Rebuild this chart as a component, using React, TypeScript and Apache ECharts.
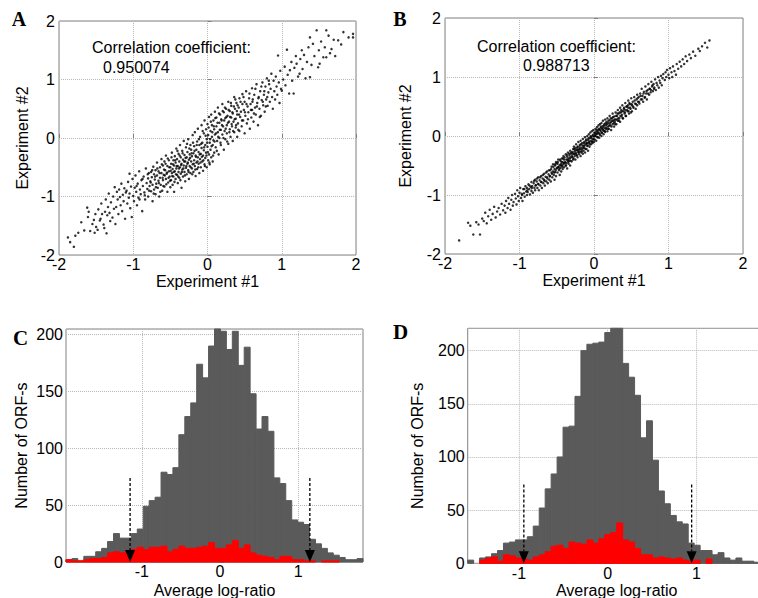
import React, { useEffect, useRef } from 'react';
import * as echarts from 'echarts';

// ---------- Data ----------
const SCATTER_TICKS = [-2, -1, 0, 1, 2];
const HIST_X_TICKS = [-1, 0, 1];
const CORR_A = '0.950074';
const CORR_B = '0.988713';

// Panel A: Experiment #1 vs Experiment #2 (x, y pairs, read approximately)
const A_XY = [
  -1.88,-1.70, -1.85,-1.78, -1.80,-1.86, -1.78,-1.67, -1.74,-1.62, -1.70,-1.44, -1.66,-1.58, -1.62,-1.19,
  -1.61,-1.35, -1.60,-1.26, -1.58,-1.59, -1.55,-1.47, -1.53,-1.40, -1.52,-1.62, -1.51,-1.30, -1.50,-1.52,
  -1.48,-1.57, -1.47,-1.22, -1.45,-1.41, -1.44,-1.38, -1.43,-1.12, -1.42,-1.30, -1.40,-1.48, -1.39,-1.54,
  -1.38,-1.26, -1.37,-1.05, -1.36,-1.63, -1.35,-1.32, -1.34,-1.18, -1.33,-0.95, -1.32,-1.28, -1.31,-1.42,
  -1.30,-1.10, -1.28,-1.36, -1.27,-1.00, -1.26,-1.21, -1.25,-0.84, -1.24,-1.47, -1.23,-1.18, -1.22,-0.92,
  -1.21,-1.05, -1.20,-1.30, -1.19,-0.88, -1.18,-1.01, -1.17,-1.15, -1.16,-0.78, -1.15,-1.25, -1.14,-0.97,
  -1.13,-1.08, -1.12,-0.86, -1.11,-1.38, -1.10,-0.93,
  -1.09,-0.90, -1.08,-1.12, -1.07,-0.75, -1.06,-1.02, -1.05,-0.61, -1.05,-0.95, -1.04,-1.20, -1.03,-0.83,
  -1.02,-1.35, -1.01,-0.70, -1.00,-0.99, -0.99,-1.08, -0.98,-0.85, -0.97,-0.64, -0.96,-0.92, -0.95,-1.15,
  -0.94,-0.78, -0.93,-1.02, -0.92,-0.57, -0.91,-0.88, -0.90,-0.96, -0.89,-0.72, -0.88,-1.25, -0.87,-0.82,
  -0.86,-0.66, -0.85,-0.93, -0.84,-1.05, -0.83,-0.52, -0.82,-0.77, -0.81,-0.87, -0.80,-0.69, -0.80,-1.00,
  -0.79,-0.60, -0.78,-0.82,
  -0.77,-0.74, -0.76,-0.91, -0.76,-0.58, -0.75,-0.67, -0.74,-1.08, -0.74,-0.80, -0.73,-0.49, -0.72,-0.62,
  -0.72,-0.88, -0.71,-0.71, -0.70,-0.55, -0.70,-0.96, -0.69,-0.78, -0.68,-0.42, -0.68,-0.64, -0.67,-0.85,
  -0.66,-0.57, -0.66,-0.73, -0.65,-1.00, -0.64,-0.50, -0.64,-0.68, -0.63,-0.80, -0.62,-0.36, -0.62,-0.60,
  -0.61,-0.90, -0.60,-0.47, -0.60,-0.72, -0.59,-0.63, -0.58,-0.83, -0.58,-0.40, -0.57,-0.55, -0.56,-0.70,
  -0.56,-0.30, -0.55,-0.61, -0.54,-0.92, -0.54,-0.48, -0.53,-0.76, -0.52,-0.57, -0.52,-0.38, -0.51,-0.66,
  -0.50,-0.84, -0.50,-0.50,
  -0.49,-0.44, -0.49,-0.72, -0.48,-0.60, -0.48,-0.25, -0.47,-0.53, -0.47,-0.80, -0.46,-0.38, -0.46,-0.66,
  -0.45,-0.47, -0.45,-0.92, -0.44,-0.31, -0.44,-0.57, -0.43,-0.70, -0.43,-0.42, -0.42,-0.18, -0.42,-0.52,
  -0.41,-0.63, -0.41,-0.36, -0.40,-0.77, -0.40,-0.48, -0.39,-0.27, -0.39,-0.58, -0.38,-0.40, -0.38,-0.68,
  -0.37,-0.50, -0.37,-0.12, -0.36,-0.33, -0.36,-0.61, -0.35,-0.44, -0.35,-0.85, -0.34,-0.22, -0.34,-0.54,
  -0.33,-0.37, -0.33,-0.66, -0.32,-0.47, -0.32,-0.05, -0.31,-0.29, -0.31,-0.58, -0.30,-0.40, -0.30,-0.74,
  -0.29,-0.16, -0.29,-0.51, -0.28,-0.33, -0.28,-0.62, -0.27,-0.44, -0.27,-0.24, -0.26,-0.55, -0.26,-0.02,
  -0.25,-0.37, -0.25,-0.70, -0.24,-0.28, -0.24,-0.48, -0.23,-0.12, -0.23,-0.60, -0.22,-0.40, -0.22,-0.20,
  -0.21,-0.52, -0.21,-0.31, -0.20,-0.45, -0.20,0.05,
  -0.19,-0.26, -0.19,-0.58, -0.18,-0.14, -0.18,-0.38, -0.17,-0.48, -0.17,0.10, -0.16,-0.30, -0.16,-0.65,
  -0.15,-0.20, -0.15,-0.42, -0.14,-0.06, -0.14,-0.53, -0.13,-0.33, -0.13,0.16, -0.12,-0.24, -0.12,-0.44,
  -0.11,-0.12, -0.11,-0.60, -0.10,-0.36, -0.10,0.02, -0.09,-0.27, -0.09,-0.50, -0.08,-0.17, -0.08,0.22,
  -0.07,-0.40, -0.07,-0.08, -0.06,-0.30, -0.06,-0.56, -0.05,0.08, -0.05,-0.21, -0.04,-0.45, -0.04,0.30,
  -0.03,-0.12, -0.03,-0.34, -0.02,0.15, -0.02,-0.25, -0.01,-0.02, -0.01,-0.50, 0.00,-0.15, 0.00,0.24,
  0.01,-0.38, 0.01,0.05, 0.02,-0.28, 0.02,0.36, 0.03,-0.08, 0.03,-0.45, 0.04,0.12, 0.04,-0.20,
  0.05,0.40, 0.05,-0.33, 0.06,0.02, 0.06,0.22, 0.07,-0.12, 0.07,-0.40, 0.08,0.30, 0.08,-0.04,
  0.09,0.15, 0.09,-0.25, 0.10,0.45, 0.10,0.06,
  0.11,-0.16, 0.12,0.20, 0.12,0.35, 0.13,-0.05, 0.14,0.10, 0.14,0.52, 0.15,-0.28, 0.16,0.26,
  0.16,0.00, 0.17,0.40, 0.18,0.14, 0.18,-0.12, 0.19,0.30, 0.20,0.58, 0.20,0.06, 0.21,0.20,
  0.22,-0.20, 0.22,0.44, 0.23,0.12, 0.24,0.34, 0.24,-0.02, 0.25,0.50, 0.26,0.22, 0.26,0.08,
  0.27,0.38, 0.28,-0.10, 0.28,0.62, 0.29,0.28, 0.30,0.15, 0.30,0.46, 0.31,0.02, 0.32,0.35,
  0.32,0.55, 0.33,0.20, 0.34,-0.05, 0.34,0.42, 0.35,0.28, 0.36,0.70, 0.36,0.10, 0.37,0.50,
  0.38,0.33, 0.38,0.18, 0.39,0.60, 0.40,0.02, 0.40,0.40,
  0.41,0.25, 0.42,0.52, 0.43,0.12, 0.43,0.68, 0.44,0.36, 0.45,0.45, 0.46,0.20, 0.47,0.58,
  0.47,0.75, 0.48,0.30, 0.49,0.48, 0.50,0.08, 0.50,0.62, 0.51,0.38, 0.52,0.80, 0.53,0.25,
  0.54,0.54, 0.55,0.44, 0.56,0.68, 0.57,0.16, 0.58,0.58, 0.59,0.35, 0.60,0.85, 0.60,0.48,
  0.61,0.66, 0.62,0.28, 0.63,0.74, 0.64,0.52, 0.65,0.40, 0.66,0.92, 0.67,0.60, 0.68,0.22,
  0.69,0.70, 0.70,0.50,
  0.71,0.80, 0.72,0.38, 0.73,0.65, 0.74,0.95, 0.75,0.56, 0.76,0.74, 0.77,0.45, 0.78,0.88,
  0.79,0.66, 0.80,1.02, 0.81,0.55, 0.82,0.78, 0.83,0.92, 0.84,0.62, 0.85,0.84, 0.86,1.10,
  0.87,0.70, 0.88,0.50, 0.89,0.98, 0.90,0.80, 0.91,0.66, 0.92,1.05, 0.93,0.88, 0.94,0.74,
  0.95,1.41, 0.96,0.95, 0.97,0.60, 0.98,1.15, 0.99,0.84, 1.00,0.81,
  1.02,1.00, 1.04,1.22, 1.05,0.90, 1.07,1.51, 1.08,1.08, 1.10,0.76, 1.11,1.16, 1.13,1.30,
  1.14,0.98, 1.16,0.76, 1.17,1.20, 1.19,1.40, 1.20,1.27, 1.22,1.05, 1.24,1.10, 1.25,1.35,
  1.27,1.50, 1.28,1.18, 1.30,1.42, 1.32,1.02, 1.34,1.30, 1.36,1.55, 1.38,1.04, 1.38,1.72,
  1.40,1.25,
  1.42,1.61, 1.44,1.40, 1.47,1.84, 1.49,1.21, 1.50,1.50, 1.51,1.27, 1.53,1.65, 1.56,1.38,
  1.58,1.55, 1.60,1.84, 1.60,1.38, 1.63,1.75, 1.65,1.45, 1.67,1.52, 1.70,1.68, 1.72,1.40,
  1.76,1.67, 1.80,1.60, 1.83,1.81, 1.90,1.72, 1.96,1.78, 1.96,1.72,
  // denser core of panel A
  -0.955,-0.82, -0.915,-1.05, -0.875,-0.70, -0.845,-0.98, -0.805,-0.62, -0.785,-0.90, -0.765,-0.76, -0.745,-0.55,
  -0.725,-0.95, -0.705,-0.66, -0.695,-0.84, -0.675,-0.52, -0.655,-0.77, -0.645,-0.60, -0.635,-0.92, -0.615,-0.45,
  -0.605,-0.68, -0.595,-0.82, -0.585,-0.54, -0.575,-0.64, -0.565,-0.44, -0.555,-0.79, -0.545,-0.59, -0.535,-0.35,
  -0.525,-0.68, -0.515,-0.50, -0.505,-0.73, -0.495,-0.56, -0.485,-0.33, -0.475,-0.65, -0.465,-0.45, -0.455,-0.58,
  -0.445,-0.75, -0.435,-0.38, -0.425,-0.62, -0.415,-0.48, -0.405,-0.22, -0.395,-0.66, -0.385,-0.52, -0.375,-0.30,
  -0.365,-0.72, -0.355,-0.46, -0.345,-0.58, -0.335,-0.26, -0.325,-0.52, -0.315,-0.40, -0.305,-0.64, -0.295,-0.34,
  -0.285,-0.48, -0.275,-0.10, -0.265,-0.42, -0.255,-0.58, -0.245,-0.18, -0.235,-0.34, -0.225,-0.50, -0.215,-0.26,
  -0.205,-0.62, -0.195,-0.08, -0.185,-0.44, -0.175,-0.22, -0.165,-0.54, -0.155,-0.32, -0.145,-0.12, -0.135,-0.40,
  -0.125,-0.50, -0.115,-0.02, -0.105,-0.28, -0.095,-0.42, -0.085,-0.10, -0.075,-0.32, -0.065,0.12, -0.055,-0.38,
  -0.045,-0.16, -0.035,-0.48, -0.025,0.04, -0.015,-0.30, -0.005,-0.08, 0.005,-0.24, 0.015,0.18, 0.025,-0.42,
  0.035,-0.02, 0.045,0.28, 0.055,-0.14, 0.065,0.10, 0.075,-0.30, 0.085,0.20, 0.095,-0.06, 0.105,0.34,
  0.115,0.08, 0.125,-0.22, 0.135,0.26, 0.145,0.02, 0.155,0.42, 0.165,0.14, 0.175,-0.08, 0.185,0.32,
  0.195,0.22, 0.205,0.46, 0.215,0.00, 0.225,0.30, 0.235,0.52, 0.245,0.16, 0.255,0.36, 0.265,-0.06,
  0.275,0.26, 0.285,0.48, 0.295,0.10, 0.305,0.36, 0.315,0.60, 0.325,0.24, 0.335,0.44, 0.345,0.12,
  0.355,0.54, 0.365,0.32, 0.375,0.66, 0.385,0.22, 0.395,0.46, 0.405,0.56, 0.415,0.14, 0.425,0.40,
  0.445,0.62, 0.465,0.30, 0.485,0.70, 0.505,0.44, 0.525,0.58, 0.545,0.32, 0.565,0.76, 0.585,0.48,
  0.605,0.62, 0.625,0.42, 0.645,0.84, 0.665,0.54, 0.685,0.68, 0.705,0.36, 0.725,0.88, 0.745,0.62,
  0.765,0.80, 0.785,0.54, 0.805,0.70, 0.825,0.98,
];

// Panel B: Experiment #1 vs Experiment #2 (x, y pairs, read approximately)
const B_XY = [
  -1.81,-1.77, -1.69,-1.47, -1.66,-1.52, -1.62,-1.67, -1.58,-1.46, -1.55,-1.50, -1.53,-1.67, -1.50,-1.40,
  -1.48,-1.44, -1.46,-1.30, -1.44,-1.48, -1.42,-1.36, -1.40,-1.25, -1.38,-1.42, -1.36,-1.32, -1.34,-1.20,
  -1.32,-1.38, -1.30,-1.28, -1.28,-1.22, -1.26,-1.33, -1.24,-1.15, -1.22,-1.26, -1.20,-1.18,
  -1.19,-1.30, -1.18,-1.10, -1.16,-1.22, -1.15,-1.05, -1.14,-1.15, -1.12,-1.25, -1.11,-1.08, -1.10,-1.00,
  -1.09,-1.18, -1.08,-1.12, -1.06,-0.98, -1.05,-1.06, -1.04,-1.16, -1.03,-0.92, -1.02,-1.02, -1.01,-1.10,
  -1.00,-0.96, -0.99,-0.88, -0.98,-1.05, -0.97,-0.98, -0.96,-1.10, -0.95,-0.90, -0.94,-0.97, -0.93,-1.03,
  -0.92,-0.85, -0.91,-0.94, -0.90,-1.00, -0.90,-0.88,
  -0.89,-0.95, -0.88,-0.82, -0.87,-0.90, -0.86,-0.99, -0.85,-0.86, -0.84,-0.78, -0.84,-0.93, -0.83,-0.85,
  -0.82,-0.96, -0.81,-0.80, -0.80,-0.88, -0.79,-0.74, -0.79,-0.92, -0.78,-0.83, -0.77,-0.77, -0.76,-0.88,
  -0.75,-0.70, -0.75,-0.81, -0.74,-0.92, -0.73,-0.75, -0.72,-0.84, -0.71,-0.68, -0.71,-0.78, -0.70,-0.88,
  -0.69,-0.72, -0.68,-0.80, -0.67,-0.64, -0.67,-0.74, -0.66,-0.84, -0.65,-0.69, -0.64,-0.77, -0.63,-0.60,
  -0.63,-0.70, -0.62,-0.80, -0.61,-0.65, -0.60,-0.74,
  -0.59,-0.58, -0.59,-0.68, -0.58,-0.77, -0.57,-0.62, -0.57,-0.52, -0.56,-0.70, -0.55,-0.60, -0.55,-0.48,
  -0.54,-0.66, -0.53,-0.56, -0.53,-0.74, -0.52,-0.50, -0.52,-0.61, -0.51,-0.44, -0.51,-0.68, -0.50,-0.55,
  -0.49,-0.47, -0.49,-0.62, -0.48,-0.53, -0.48,-0.40, -0.47,-0.58, -0.46,-0.49, -0.46,-0.66, -0.45,-0.42,
  -0.45,-0.54, -0.44,-0.47, -0.44,-0.60, -0.43,-0.38, -0.43,-0.50, -0.42,-0.44, -0.42,-0.56, -0.41,-0.34,
  -0.41,-0.48, -0.40,-0.40, -0.40,-0.53, -0.39,-0.45, -0.38,-0.31, -0.38,-0.50, -0.37,-0.40, -0.37,-0.46,
  -0.36,-0.35, -0.36,-0.55, -0.35,-0.42, -0.35,-0.28, -0.34,-0.38, -0.34,-0.47, -0.33,-0.33, -0.33,-0.42,
  -0.32,-0.25, -0.32,-0.50, -0.31,-0.36, -0.31,-0.30, -0.30,-0.43,
  -0.29,-0.27, -0.29,-0.36, -0.28,-0.22, -0.28,-0.40, -0.27,-0.30, -0.27,-0.18, -0.26,-0.34, -0.26,-0.26,
  -0.25,-0.40, -0.25,-0.20, -0.24,-0.29, -0.24,-0.14, -0.23,-0.33, -0.23,-0.24, -0.22,-0.18, -0.22,-0.36,
  -0.21,-0.27, -0.21,-0.10, -0.20,-0.22, -0.20,-0.31, -0.19,-0.15, -0.19,-0.26, -0.18,-0.34, -0.18,-0.08,
  -0.17,-0.20, -0.17,-0.28, -0.16,-0.12, -0.16,-0.23, -0.15,-0.30, -0.15,-0.05, -0.14,-0.17, -0.14,-0.25,
  -0.13,-0.10, -0.13,-0.20, -0.12,-0.02, -0.12,-0.28, -0.11,-0.14, -0.11,-0.08, -0.10,-0.22, -0.10,-0.12,
  -0.09,0.00, -0.09,-0.17, -0.08,-0.07, -0.08,-0.25, -0.07,-0.12, -0.07,0.03, -0.06,-0.04, -0.06,-0.18,
  -0.05,-0.09, -0.05,0.06, -0.04,-0.14, -0.04,-0.02, -0.03,-0.08, -0.03,0.08, -0.02,-0.12, -0.02,0.00,
  -0.01,-0.05, -0.01,0.10, 0.00,-0.01, 0.00,-0.10,
  0.01,0.04, 0.01,-0.06, 0.02,0.12, 0.02,0.00, 0.03,0.07, 0.03,-0.08, 0.04,0.03, 0.04,0.15,
  0.05,-0.02, 0.05,0.09, 0.06,0.18, 0.06,0.05, 0.07,-0.03, 0.07,0.11, 0.08,0.02, 0.08,0.20,
  0.09,0.08, 0.09,0.14, 0.10,0.00, 0.10,0.22, 0.11,0.12, 0.11,0.05, 0.12,0.17, 0.12,0.26,
  0.13,0.09, 0.13,0.03, 0.14,0.20, 0.14,0.14, 0.15,0.28, 0.15,0.07, 0.16,0.18, 0.16,0.12,
  0.17,0.24, 0.18,0.08, 0.18,0.30, 0.19,0.16, 0.19,0.22, 0.20,0.12, 0.21,0.27, 0.21,0.34,
  0.22,0.18, 0.23,0.24, 0.23,0.10, 0.24,0.30, 0.25,0.20, 0.25,0.38, 0.26,0.26, 0.27,0.16,
  0.27,0.33, 0.28,0.24, 0.29,0.40, 0.29,0.28, 0.30,0.20,
  0.31,0.34, 0.32,0.44, 0.32,0.26, 0.33,0.38, 0.34,0.30, 0.35,0.48, 0.35,0.24, 0.36,0.40,
  0.37,0.33, 0.38,0.52, 0.38,0.42, 0.39,0.30, 0.40,0.46, 0.41,0.38, 0.42,0.56, 0.42,0.44,
  0.43,0.34, 0.44,0.50, 0.45,0.42, 0.46,0.60, 0.46,0.48, 0.47,0.38, 0.48,0.54, 0.49,0.46,
  0.50,0.64, 0.51,0.52, 0.51,0.42, 0.52,0.58, 0.53,0.48, 0.54,0.66, 0.55,0.55, 0.56,0.46,
  0.57,0.62, 0.58,0.70, 0.58,0.52, 0.59,0.58, 0.60,0.66,
  0.61,0.55, 0.62,0.72, 0.63,0.62, 0.64,0.80, 0.65,0.68, 0.66,0.58, 0.67,0.75, 0.68,0.65,
  0.69,0.84, 0.70,0.72, 0.71,0.62, 0.72,0.78, 0.73,0.88, 0.74,0.70, 0.75,0.80, 0.76,0.74,
  0.77,0.92, 0.78,0.84, 0.79,0.76, 0.80,0.88, 0.81,0.82, 0.82,0.96, 0.83,0.78, 0.84,0.90,
  0.85,0.86, 0.86,1.00, 0.87,0.82, 0.88,0.94, 0.89,0.90, 0.90,1.02,
  0.91,0.86, 0.92,0.98, 0.93,1.05, 0.95,0.95, 0.96,1.08, 0.97,1.00, 0.98,1.12, 1.00,1.04,
  1.01,0.98, 1.02,1.15, 1.04,1.08, 1.05,1.00, 1.06,1.18, 1.08,1.10, 1.10,1.04, 1.11,1.22,
  1.13,1.14, 1.15,1.26, 1.17,1.18, 1.19,1.30, 1.21,1.22, 1.23,1.35, 1.25,1.27, 1.28,1.38,
  1.30,1.32, 1.33,1.43, 1.36,1.36, 1.40,1.48, 1.42,1.44, 1.45,1.52, 1.49,1.58, 1.52,1.50,
  1.55,1.62,
  // denser core of panel B
  -0.965,-1.00, -0.935,-0.90, -0.895,-0.92, -0.865,-0.84, -0.835,-0.88, -0.805,-0.76, -0.785,-0.84, -0.765,-0.72,
  -0.745,-0.82, -0.725,-0.70, -0.705,-0.78, -0.685,-0.66, -0.665,-0.76, -0.645,-0.62, -0.625,-0.72, -0.605,-0.58,
  -0.595,-0.68, -0.575,-0.56, -0.565,-0.64, -0.545,-0.52, -0.535,-0.62, -0.525,-0.48, -0.515,-0.58, -0.505,-0.46,
  -0.495,-0.54, -0.485,-0.44, -0.475,-0.52, -0.465,-0.56, -0.455,-0.40, -0.445,-0.50, -0.435,-0.44, -0.425,-0.52,
  -0.415,-0.38, -0.405,-0.46, -0.395,-0.36, -0.385,-0.44, -0.375,-0.50, -0.365,-0.32, -0.355,-0.40, -0.345,-0.44,
  -0.335,-0.30, -0.325,-0.38, -0.315,-0.42, -0.305,-0.28, -0.295,-0.34, -0.285,-0.30, -0.275,-0.38, -0.265,-0.22,
  -0.255,-0.30, -0.245,-0.24, -0.235,-0.32, -0.225,-0.20, -0.215,-0.24, -0.205,-0.28, -0.195,-0.18, -0.185,-0.22,
  -0.175,-0.14, -0.165,-0.26, -0.155,-0.16, -0.145,-0.20, -0.135,-0.12, -0.125,-0.16, -0.115,-0.22, -0.105,-0.06,
  -0.095,-0.12, -0.085,-0.16, -0.075,-0.04, -0.065,-0.10, -0.055,-0.14, -0.045,0.00, -0.035,-0.04, -0.025,-0.10,
  -0.015,0.02, -0.005,-0.06, 0.005,0.06, 0.015,0.00, 0.025,0.04, 0.035,0.10, 0.045,-0.02, 0.055,0.06,
  0.065,0.12, 0.075,0.04, 0.085,0.10, 0.095,0.16, 0.105,0.06, 0.115,0.14, 0.125,0.10, 0.135,0.18,
  0.145,0.08, 0.155,0.22, 0.165,0.14, 0.175,0.20, 0.185,0.12, 0.195,0.26, 0.205,0.18, 0.215,0.22,
  0.225,0.30, 0.235,0.16, 0.245,0.26, 0.255,0.32, 0.265,0.22, 0.275,0.28, 0.285,0.20, 0.295,0.34,
  0.305,0.28, 0.315,0.38, 0.325,0.30, 0.335,0.26, 0.345,0.40, 0.355,0.34, 0.365,0.44, 0.375,0.36,
  0.385,0.30, 0.395,0.42, 0.405,0.48, 0.415,0.40, 0.425,0.34, 0.435,0.50, 0.445,0.44, 0.455,0.52,
  0.465,0.42, 0.475,0.56, 0.485,0.48, 0.495,0.40, 0.505,0.54, 0.525,0.50, 0.545,0.60, 0.565,0.54,
  0.585,0.64, 0.605,0.58, 0.625,0.68, 0.645,0.62, 0.665,0.72, 0.685,0.66, 0.705,0.76, 0.725,0.72,
  0.745,0.80, 0.765,0.78, 0.785,0.86, 0.805,0.80,
];

// Panel C histogram: 50 bins of "Average log-ratio"
const C_BIN_START = -1.97;
const C_BIN_WIDTH = 0.076;
const C_COUNTS_ALL = [
  2, 3, 1, 5, 5, 9, 12, 18, 25, 21, 21, 25, 29, 49, 54, 57, 79, 77, 83, 112, 128, 140, 174, 162, 190,
  206, 203, 187, 203, 173, 189, 148, 117, 128, 115, 74, 69, 54, 37, 35, 33, 20, 16, 12, 8, 6, 4, 2, 2, 3,
];
const C_COUNTS_RED = [
  2, 1, 1, 2, 3, 3, 4, 8, 9, 8, 10, 11, 13, 11, 13, 13, 14, 9, 11, 14, 12, 12, 13, 14, 17,
  12, 12, 15, 19, 12, 15, 8, 6, 5, 4, 2, 5, 5, 2, 2, 1, 1, 0, 1, 1, 1, 0, 0, 0, 0,
];
const C_ARROWS_X = [-1.15, 1.15];
const C_ARROW_TOP = 74;
const C_Y_MAX = 205;

// Panel D histogram
const D_BIN_START = -1.578;
const D_BIN_WIDTH = 0.0672;
const D_COUNTS_ALL = [
  3, 0, 5, 6, 9, 12, 19, 20, 22, 22, 25, 35, 52, 70, 84, 100, 128, 129, 157, 200, 206, 207, 208, 217, 224,
  224, 188, 175, 158, 118, 134, 97, 68, 56, 45, 39, 37, 19, 17, 12, 12, 8, 10, 5, 3, 5, 2, 2, 1, 1,
];
const D_COUNTS_RED = [
  0, 0, 3, 5, 6, 2, 8, 7, 5, 4, 3, 6, 8, 11, 16, 17, 14, 20, 19, 18, 22, 19, 23, 27, 29,
  38, 22, 20, 14, 8, 8, 5, 6, 5, 4, 5, 3, 2, 3, 0, 4, 0, 0, 0, 0, 0, 0, 0, 0, 0,
];
const D_ARROWS_X = [-0.945, 0.947];
const D_ARROW_TOP = 74;
const D_Y_MAX = 221;

// ---------- Helpers ----------
const SANS = "'Liberation Sans', Arial, Helvetica, sans-serif";
const SERIF = "'Liberation Serif', 'Times New Roman', serif";
const GRAY = '#5a5a5a';
const RED = '#ff0000';
const BORDER = '#808080';
const GRIDLINE = '#b8b8b8';

function pairs(flat: number[]) {
  const out: number[][] = [];
  for (let i = 0; i < flat.length; i += 2) out.push([flat[i], flat[i + 1]]);
  return out;
}

function bins(start: number, width: number, counts: number[]) {
  return counts.map((c, i) => [start + i * width, start + (i + 1) * width, c]);
}

function histRender(color: string) {
  return (params: any, api: any) => {
    const x0 = api.value(0);
    const x1 = api.value(1);
    const c = api.value(2);
    if (!c) return null;
    const p0 = api.coord([x0, c]);
    const p1 = api.coord([x1, 0]);
    const cs = params.coordSys;
    const rect = echarts.graphic.clipRectByRect(
      { x: p0[0], y: p0[1], width: p1[0] - p0[0], height: p1[1] - p0[1] },
      { x: cs.x, y: cs.y, width: cs.width, height: cs.height }
    );
    if (!rect) return null;
    return {
      type: 'rect',
      shape: rect,
      style: { fill: color, stroke: color, lineWidth: 1 },
    };
  };
}

function arrowRender(params: any, api: any) {
  const x = api.value(0);
  const top = api.value(1);
  const pt = api.coord([x, top]);
  const pb = api.coord([x, 0]);
  const headH = 12;
  const headW = 10;
  return {
    type: 'group',
    children: [
      {
        type: 'line',
        shape: { x1: pt[0], y1: pt[1], x2: pb[0], y2: pb[1] - headH },
        style: { stroke: '#000', lineWidth: 1.3, lineDash: [3, 2] },
      },
      {
        type: 'polygon',
        shape: {
          points: [
            [pb[0] - headW / 2, pb[1] - headH],
            [pb[0] + headW / 2, pb[1] - headH],
            [pb[0], pb[1]],
          ],
        },
        style: { fill: '#000' },
      },
    ],
  };
}

const labelStyle = { color: '#000', fontSize: 16, lineHeight: 14, fontFamily: SANS };
const nameStyle = { color: '#000', fontSize: 16, lineHeight: 14, fontFamily: SANS };
const splitLine = { show: true, lineStyle: { color: GRIDLINE, type: 'dotted', width: 1 } };
const tickIn = { show: true, inside: true, length: 4, lineStyle: { color: BORDER } };

function scatterX(gridIndex: number) {
  return {
    gridIndex, type: 'value', min: -2, max: 2, interval: 1,
    name: 'Experiment #1', nameLocation: 'middle', nameGap: 19, nameTextStyle: nameStyle,
    nameMoveOverlap: false,
    axisLine: { show: false }, axisTick: tickIn,
    axisLabel: { ...labelStyle, margin: 2, customValues: SCATTER_TICKS },
    splitLine,
  };
}
function scatterY(gridIndex: number, gap: number) {
  return {
    gridIndex, type: 'value', min: -2, max: 2, interval: 1,
    name: 'Experiment #2', nameLocation: 'middle', nameGap: gap, nameTextStyle: nameStyle,
    axisLine: { show: false }, axisTick: tickIn,
    axisLabel: { ...labelStyle, margin: 4, customValues: SCATTER_TICKS },
    splitLine,
  };
}
function histX(gridIndex: number, min: number, max: number, gap: number, margin: number) {
  return {
    gridIndex, type: 'value', min, max,
    name: 'Average log-ratio', nameLocation: 'middle', nameGap: gap, nameTextStyle: nameStyle,
    nameMoveOverlap: false,
    axisLine: { show: false },
    axisTick: { ...tickIn, customValues: HIST_X_TICKS },
    axisLabel: { ...labelStyle, margin, customValues: HIST_X_TICKS },
    splitLine,
  };
}
function histY(gridIndex: number, max: number, gap: number) {
  return {
    gridIndex, type: 'value', min: 0, max, interval: 50,
    name: 'Number of ORF-s', nameLocation: 'middle', nameGap: gap, nameTextStyle: nameStyle,
    axisLine: { show: false }, axisTick: tickIn,
    axisLabel: { ...labelStyle, margin: 3, showMaxLabel: false },
    splitLine,
  };
}

function gridBox(left: number, top: number, width: number, height: number) {
  return {
    left, top, width, height, show: true, borderColor: BORDER, borderWidth: 1,
    backgroundColor: 'transparent', containLabel: false, outerBoundsMode: 'none',
  };
}

function letter(text: string, x: number, y: number, size: number) {
  return {
    type: 'text', x, y, z: 100,
    style: {
      text, fill: '#000', font: `bold ${size}px ${SERIF}`,
      align: 'center', verticalAlign: 'middle',
    },
  };
}
function note(text: string, x: number, y: number) {
  return {
    type: 'text', x, y, z: 100,
    style: { text, fill: '#000', font: `16px ${SANS}`, align: 'left', verticalAlign: 'middle' },
  };
}

export default function App() {
  const ref = useRef<HTMLDivElement>(null);

  useEffect(() => {
    if (!ref.current) return;
    const chart = echarts.init(ref.current, undefined, { renderer: 'svg' });

    const scatterStyle = {
      type: 'scatter', symbol: 'circle', symbolSize: 2.5,
      itemStyle: { color: '#000' }, silent: true,
    };

    const option: any = {
      animation: false,
      backgroundColor: '#fff',
      textStyle: { fontFamily: SANS },
      grid: [
        gridBox(59, 21, 297, 234),
        gridBox(445, 18, 298, 236),
        gridBox(66, 329, 297, 233),
        gridBox(467.7, 328.3, 50 * 5.96, 235),
      ],
      xAxis: [
        scatterX(0),
        scatterX(1),
        histX(2, C_BIN_START, C_BIN_START + 50 * C_BIN_WIDTH, 21, 2),
        histX(3, D_BIN_START, D_BIN_START + 50 * D_BIN_WIDTH, 20, 3),
      ],
      yAxis: [
        scatterY(0, 30),
        scatterY(1, 33),
        histY(2, C_Y_MAX, 38),
        histY(3, D_Y_MAX, 43),
      ],
      series: [
        { ...scatterStyle, xAxisIndex: 0, yAxisIndex: 0, data: pairs(A_XY) },
        { ...scatterStyle, xAxisIndex: 1, yAxisIndex: 1, data: pairs(B_XY) },
        {
          type: 'custom', xAxisIndex: 2, yAxisIndex: 2, z: 2,
          data: bins(C_BIN_START, C_BIN_WIDTH, C_COUNTS_ALL),
          encode: { x: [0, 1], y: 2 }, renderItem: histRender(GRAY), silent: true,
        },
        {
          type: 'custom', xAxisIndex: 2, yAxisIndex: 2, z: 3,
          data: bins(C_BIN_START, C_BIN_WIDTH, C_COUNTS_RED),
          encode: { x: [0, 1], y: 2 }, renderItem: histRender(RED), silent: true,
        },
        {
          type: 'custom', xAxisIndex: 2, yAxisIndex: 2, z: 5,
          data: C_ARROWS_X.map((x) => [x, C_ARROW_TOP]),
          encode: { x: 0, y: 1 }, renderItem: arrowRender, silent: true,
        },
        {
          type: 'custom', xAxisIndex: 3, yAxisIndex: 3, z: 2,
          data: bins(D_BIN_START, D_BIN_WIDTH, D_COUNTS_ALL),
          encode: { x: [0, 1], y: 2 }, renderItem: histRender(GRAY), silent: true,
        },
        {
          type: 'custom', xAxisIndex: 3, yAxisIndex: 3, z: 3,
          data: bins(D_BIN_START, D_BIN_WIDTH, D_COUNTS_RED),
          encode: { x: [0, 1], y: 2 }, renderItem: histRender(RED), silent: true,
        },
        {
          type: 'custom', xAxisIndex: 3, yAxisIndex: 3, z: 5,
          data: D_ARROWS_X.map((x) => [x, D_ARROW_TOP]),
          encode: { x: 0, y: 1 }, renderItem: arrowRender, silent: true,
        },
      ],
      graphic: [
        letter('A', 19, 19, 20),
        letter('B', 400, 19, 20),
        letter('C', 20.5, 338, 21),
        letter('D', 400.5, 331.5, 21),
        note('Correlation coefficient:', 92, 47.5),
        note(CORR_A, 103, 67.5),
        note('Correlation coefficient:', 477, 46),
        note(CORR_B, 523, 65.5),
      ],
    };

    chart.setOption(option);
    return () => chart.dispose();
  }, []);

  return (
    <div
      ref={ref}
      style={{ position: 'fixed', left: 0, top: 0, width: 758, height: 598, background: '#fff' }}
    />
  );
}
